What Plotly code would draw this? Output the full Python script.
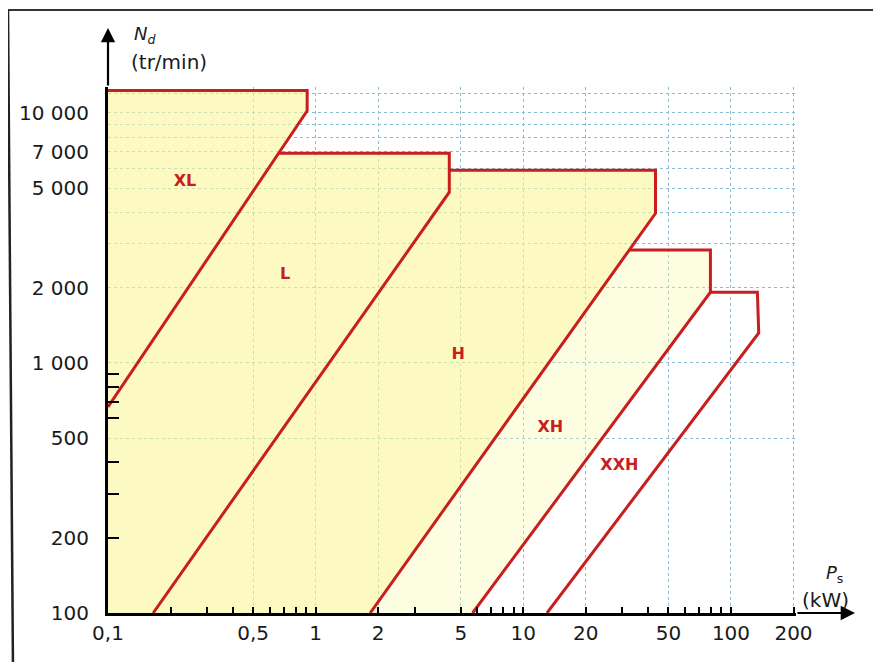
import math
import plotly.graph_objects as go

# ---------------- data ----------------
x_tick_vals = [0.1, 0.5, 1, 2, 5, 10, 20, 50, 100, 200]
x_tick_text = ["0,1", "0,5", "1", "2", "5", "10", "20", "50", "100", "200"]
x_minor_vals = [0.2, 0.3, 0.4, 0.6, 0.7, 0.8, 0.9, 3, 6, 7, 8, 9, 30, 40, 60, 70, 80, 90]

y_tick_vals = [100, 200, 500, 1000, 2000, 5000, 7000, 10000]
y_tick_text = ["100", "200", "500", "1 000", "2 000", "5 000", "7 000", "10 000"]
y_grid_vals = [500, 1000, 2000, 3000, 4000, 5000, 6000, 7000, 8000, 9000, 10000, 12000]
y_minor_vals = [200, 300, 400, 600, 700, 800, 900]

# belt zones: outline vertices (P in kW, N in tr/min)
xl_p = [0.1, 0.91, 0.91, 0.1]
xl_n = [12300, 12300, 10200, 667]
l_p = [0.665, 4.4, 4.4, 0.165]
l_n = [6900, 6900, 4820, 100]
h_p = [4.4, 43.3, 43.3, 1.83]
h_n = [5900, 5900, 3970, 100]
xh_p = [32.5, 79.6, 79.6, 5.7]
xh_n = [2830, 2830, 1920, 100]
xxh_p = [79.6, 134, 136, 13.0]
xxh_n = [1920, 1920, 1318, 100]

label_names = ["XL", "L", "H", "XH", "XXH"]
label_p = [0.235, 0.713, 4.86, 13.5, 29.0]
label_n = [5280, 2245, 1077, 550, 387]

P_MIN, P_MAX = 0.1, 200
N_MIN, N_TOP = 100, 12700

# ---------------- styles ----------------
RED = "#c81e1e"
GRID = "rgb(140,188,210)"
FONT = "DejaVu Sans"
INK = "#1a1a1a"

# plot area (figure pixels): left 100, right 788, top 79, bottom 605
PL, PW, PB, PH = 100, 688, 605, 526


def px(xpix):
    return (xpix - PL) / PW


def py(ypix):
    return (PB - ypix) / PH


fig = go.Figure()

# yellow union zone (XL + L + H)
main_p = [P_MIN] + xl_p[0:3] + l_p[0:2] + h_p[0:4]
main_n = [N_MIN] + xl_n[0:3] + l_n[0:2] + h_n[0:4]
fig.add_trace(go.Scatter(x=main_p, y=main_n, mode="lines", fill="toself",
                         fillcolor="rgba(250,246,150,0.58)", line=dict(width=0),
                         hoverinfo="skip", showlegend=False))
# pale XH zone
xhf_p = xh_p + [h_p[3]]
xhf_n = xh_n + [h_n[3]]
fig.add_trace(go.Scatter(x=xhf_p, y=xhf_n, mode="lines", fill="toself",
                         fillcolor="rgba(249,249,170,0.35)", line=dict(width=0),
                         hoverinfo="skip", showlegend=False))

for p, n in [(xl_p, xl_n), (l_p, l_n), (h_p, h_n), (xh_p, xh_n), (xxh_p, xxh_n)]:
    fig.add_trace(go.Scatter(x=p, y=n, mode="lines", line=dict(color=RED, width=3),
                             hoverinfo="skip", showlegend=False))

fig.add_trace(go.Scatter(x=label_p, y=label_n, mode="text",
                         text=["<b>%s</b>" % t for t in label_names],
                         textfont=dict(family=FONT, size=16, color=RED),
                         hoverinfo="skip", showlegend=False))

# helper trace for the label axis
fig.add_trace(go.Scatter(x=[1], y=[1000], yaxis="y2", mode="markers",
                         marker=dict(opacity=0), hoverinfo="skip", showlegend=False))

tickfont = dict(family=FONT, size=20, color=INK)

fig.update_layout(
    width=881, height=662, autosize=False,
    margin=dict(l=PL, r=881 - PL - PW, t=PB - PH, b=662 - PB),
    paper_bgcolor="white", plot_bgcolor="white",
    showlegend=False,
    xaxis=dict(type="log", range=[math.log10(P_MIN), math.log10(P_MAX) + 0.012],
               tickmode="array", tickvals=x_tick_vals, ticktext=x_tick_text,
               ticks="inside", ticklen=6, tickwidth=1.5, tickcolor="black",
               tickfont=tickfont,
               showline=True, linecolor="black", linewidth=2.5,
               showgrid=True, gridcolor=GRID, griddash="dot", gridwidth=1,
               zeroline=False,
               minor=dict(tickmode="array", tickvals=x_minor_vals, ticks="inside",
                          ticklen=6, tickwidth=1.5, tickcolor="black", showgrid=False)),
    yaxis=dict(type="log", range=[math.log10(N_MIN), math.log10(N_TOP)],
               tickmode="array", tickvals=y_grid_vals, showticklabels=False, ticks="",
               showline=True, linecolor="black", linewidth=2.5,
               showgrid=True, gridcolor=GRID, griddash="dot", gridwidth=1,
               zeroline=False,
               minor=dict(tickmode="array", tickvals=y_minor_vals, ticks="inside",
                          ticklen=11, tickwidth=1.5, tickcolor="black", showgrid=False)),
    yaxis2=dict(type="log", range=[math.log10(N_MIN), math.log10(N_TOP)],
                overlaying="y", side="left",
                tickmode="array", tickvals=y_tick_vals, ticktext=y_tick_text,
                ticks="outside", ticklen=14, tickcolor="rgba(0,0,0,0)",
                tickfont=tickfont, showgrid=False, showline=False, zeroline=False),
)

# axis arrows (page pixels minus the 8 px page offset)
fig.add_annotation(xref="paper", yref="paper", x=0, y=py(20),
                   ax=0, ay=59, axref="pixel", ayref="pixel", text="",
                   showarrow=True, arrowhead=2, arrowsize=1.3, arrowwidth=2.2,
                   arrowcolor="black", standoff=0)
fig.add_annotation(xref="paper", yref="paper", x=px(847), y=0,
                   ax=-59, ay=0, axref="pixel", ayref="pixel", text="",
                   showarrow=True, arrowhead=2, arrowsize=1.3, arrowwidth=2.2,
                   arrowcolor="black", standoff=0)

# axis titles
fig.add_annotation(xref="paper", yref="paper", x=px(124), y=py(27),
                   xanchor="left", yanchor="middle", showarrow=False,
                   text="<i>N</i><sub><i>d</i></sub>",
                   font=dict(family=FONT, size=18, color=INK))
fig.add_annotation(xref="paper", yref="paper", x=px(121), y=py(54),
                   xanchor="left", yanchor="middle", showarrow=False,
                   text="(tr/min)", font=dict(family=FONT, size=20, color=INK))
fig.add_annotation(xref="paper", yref="paper", x=px(826), y=py(566),
                   xanchor="center", yanchor="middle", showarrow=False,
                   text="<i>P</i><sub>s</sub>",
                   font=dict(family=FONT, size=18, color=INK))
fig.add_annotation(xref="paper", yref="paper", x=px(817), y=py(592),
                   xanchor="center", yanchor="middle", showarrow=False,
                   text="(kW)", font=dict(family=FONT, size=20, color=INK))

# page frame (top and left edges of the scanned figure)
fig.add_shape(type="line", xref="paper", yref="paper",
              x0=px(0), y0=py(2), x1=px(881), y1=py(2),
              line=dict(color="#333333", width=2))
fig.add_shape(type="line", xref="paper", yref="paper",
              x0=px(0), y0=py(2), x1=px(5), y1=py(662),
              line=dict(color="#222222", width=2.5))

fig.write_html("out.html")
